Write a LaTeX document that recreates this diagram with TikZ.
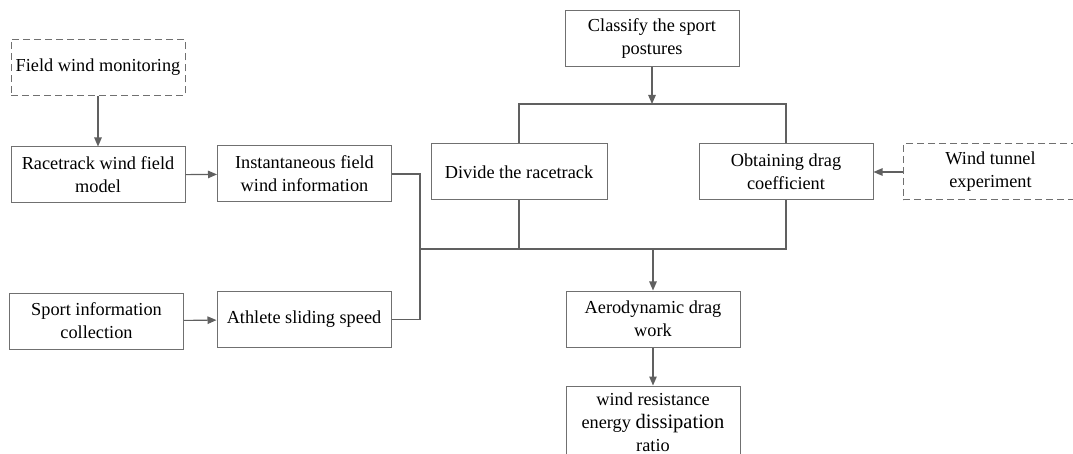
\documentclass[tikz,border=0pt]{standalone}
\usepackage{fontspec}
\setmainfont{Liberation Serif}
\newfontfamily\boxfont{Liberation Serif}
\usetikzlibrary{arrows.meta}
\definecolor{linegray}{HTML}{606060}
\definecolor{boxgray}{HTML}{707070}
\tikzset{
  >={Triangle[length=9pt,width=7.5pt]},
  flowbox/.style={draw=boxgray, line width=1pt, minimum width=174pt, minimum height=56pt,
    align=center, inner sep=2pt, text=black,
    font=\boxfont\fontsize{18.3}{23}\selectfont},
  dashbox/.style={flowbox, dash pattern=on 7pt off 4pt},
  link/.style={draw=linegray, line width=1.1pt}
}
\begin{document}
\begin{tikzpicture}[x=1pt,y=-1pt]
\clip (0,0) rectangle (1073,454);
% left column
\node[dashbox] (field) at (98,67.5) {Field wind monitoring};
\node[flowbox] (model) at (98,175) {Racetrack wind field\\model};
\node[flowbox] (inst) at (304.5,174) {Instantaneous field\\wind information};
\node[flowbox] (collect) at (96.5,321) {Sport information\\collection};
\node[flowbox] (speed) at (304,319.5) {Athlete sliding speed};
% right part
\node[flowbox] (classify) at (652,38.5) {Classify the sport\\postures};
\node[flowbox, minimum width=176pt] (divide) at (519,172) {Divide the racetrack};
\node[flowbox] (drag) at (786,172) {Obtaining drag\\coefficient};
\node[dashbox, minimum width=175pt] (tunnel) at (990.5,172) {Wind tunnel\\experiment};
\node[flowbox] (work) at (653,319) {Aerodynamic drag\\work};
\node[flowbox, minimum height=72pt] (ratio) at (653,422) {wind resistance\\energy {\fontsize{20.5}{23}\selectfont dissipation}\\ratio};
\coordinate (topbus) at (652,104);
\coordinate (turn) at (420,249);
\coordinate (lowbus) at (653,249);
% connectors
\draw[link,->] (field) -- (model);
\draw[link,->] (model) -- (inst);
\draw[link,->] (collect) -- (speed);
\draw[link,->] (classify) -- (topbus);
\draw[link] (divide.north) |- (topbus) -| (drag.north);
\draw[link,->] (tunnel) -- (drag);
\draw[link] (inst.east) -| (turn) |- (speed.east);
\draw[link] (turn) -| (divide.south);
\draw[link] (turn) -| (drag.south);
\draw[link,->] (lowbus) -- (work);
\draw[link,->] (work) -- (ratio);
\end{tikzpicture}
\end{document}
